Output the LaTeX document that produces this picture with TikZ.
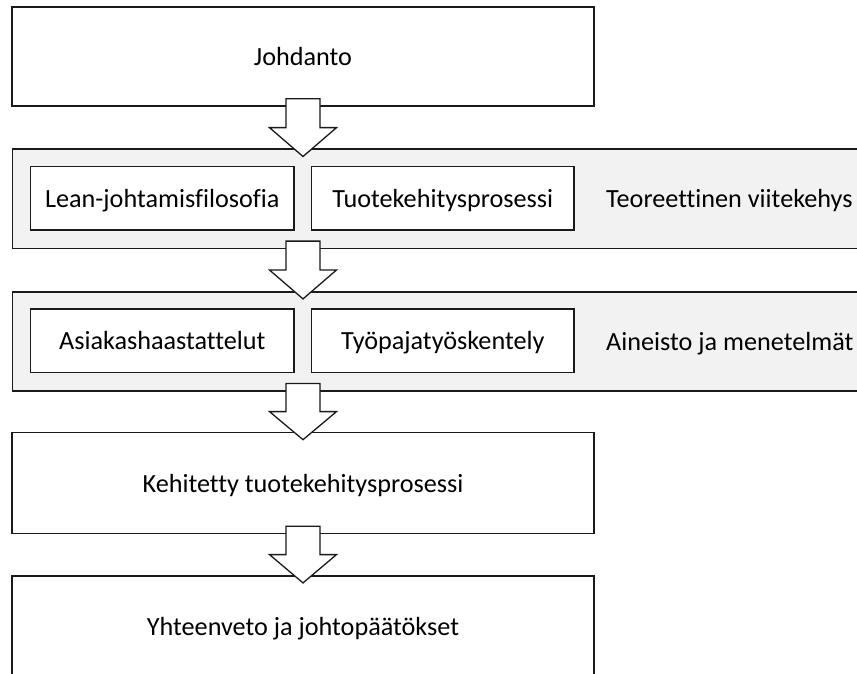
\documentclass[tikz,border=0pt]{standalone}
\usepackage{fontspec}
\setmainfont[Ligatures=NoCommon]{Carlito}
\usetikzlibrary{calc}

\definecolor{panelgrey}{HTML}{F2F2F2}
\definecolor{inkline}{HTML}{1A1A1A}

\tikzset{
  base/.style={rectangle, draw=inkline, line width=1.6pt, inner sep=0pt,
    text height=18pt, text depth=0pt, font=\fontsize{26.2}{30}\selectfont},
  mainbox/.style={base, fill=white, minimum width=582pt},
  panelbox/.style={base, fill=panelgrey, minimum width=888pt, minimum height=99pt},
  innerbox/.style={base, fill=white, minimum height=63.5pt},
  sidelabel/.style={inner sep=0pt, anchor=west, text height=18pt, text depth=0pt,
    font=\fontsize{26.2}{30}\selectfont},
  blockarr/.style={draw=inkline, fill=white, line width=1.3pt, line join=miter}
}

% Hollow block arrow from the bottom of one node into the top of the next,
% running down the vertical axis of the introduction box
\newcommand\blockarrowbetween[2]{%
  \draw[blockarr] let \p1=(#1.south -| intro.center), \p2=(#2.north -| intro.center),
      \n1={(\y1+8pt+\y2-8pt)/2} in
    (\x1-17pt,\y1+8pt) -- (\x1+17pt,\y1+8pt) -- (\x1+17pt,\n1)
    -- (\x1+33.5pt,\n1) -- (\x1,\y2-8pt) -- (\x1-33.5pt,\n1)
    -- (\x1-17pt,\n1) -- cycle;
}

\begin{document}
\begin{tikzpicture}[x=1pt, y=-1pt]
  \clip (0,0) rectangle (857,674);
  \fill[white] (0,0) rectangle (857,674);

  % Introduction
  \node[mainbox, minimum height=99pt] (intro) at (303,56.5) {Johdanto};

  % Theoretical framework panel
  \node[panelbox] (theory) at (456.5,198.8) {};
  \node[innerbox, minimum width=263.5pt] (lean) at (162.3,198.4) {Lean-johtamisfilosofia};
  \node[innerbox, minimum width=262.5pt] (pdp) at (442.8,198.4) {Tuotekehitysprosessi};
  \node[sidelabel] (theorylbl) at (606,198.8) {Teoreettinen viitekehys};

  % Material and methods panel
  \node[panelbox] (methods) at (456.5,341.2) {};
  \node[innerbox, minimum width=263.5pt] (interviews) at (162.3,340.8) {Asiakashaastattelut};
  \node[innerbox, minimum width=262.5pt] (workshop) at (442.8,340.8) {Työpajatyöskentely};
  \node[sidelabel] (methodslbl) at (606,341.2) {Aineisto ja menetelmät};

  % Result and conclusions
  \node[mainbox, minimum height=101pt] (result) at (303,483) {Kehitetty tuotekehitysprosessi};
  \node[mainbox, minimum height=101pt] (summary) at (303,626.2) {Yhteenveto ja johtopäätökset};

  % Flow arrows
  \blockarrowbetween{intro}{theory}
  \blockarrowbetween{theory}{methods}
  \blockarrowbetween{methods}{result}
  \blockarrowbetween{result}{summary}
\end{tikzpicture}
\end{document}
